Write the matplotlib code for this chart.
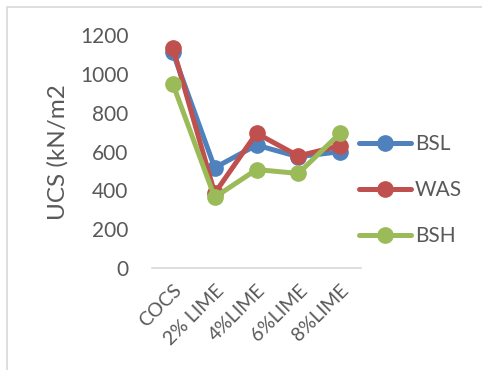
import matplotlib
matplotlib.use("Agg")
import matplotlib.pyplot as plt
from matplotlib.patches import Rectangle

categories = ["COCS", "2% LIME", "4%LIME", "6%LIME", "8%LIME"]
bsl = [1110, 516, 633, 573, 599]
was = [1134, 385, 694, 577, 630]
bsh = [947, 364, 507, 487, 694]
yticks = [0, 200, 400, 600, 800, 1000, 1200]

series = [("BSL", bsl, "#4F81BD"), ("WAS", was, "#C0504D"), ("BSH", bsh, "#9BBB59")]

plt.rcParams['font.family'] = ['Lato', 'DejaVu Sans']
fig = plt.figure(figsize=(4.82, 3.70), dpi=100)
ax = fig.add_axes([152/482, 1 - 268/370, (361-152)/482, (268-35)/370])

x = list(range(len(categories)))
for name, vals, col in series:
    ax.plot(x, vals, color=col, lw=3.6, marker="o", ms=11, label=name,
            solid_capstyle="round", solid_joinstyle="round")

ax.set_xlim(-0.5, len(categories) - 0.5)
ax.set_ylim(0, 1200)
ax.set_yticks(yticks)
ax.set_yticklabels([str(v) for v in yticks], fontsize=15, color="#595959")
ax.set_xticks(x)
ax.set_xticklabels(categories, rotation=45, ha="right", rotation_mode="anchor",
                   fontsize=14, color="#595959")
ax.tick_params(length=0)
ax.tick_params(axis="x", pad=10)
ax.tick_params(axis="y", pad=17)
for s in ["top", "right", "left"]:
    ax.spines[s].set_visible(False)
ax.spines["bottom"].set_color("#D9D9D9")
ax.spines["bottom"].set_linewidth(1.2)
fig.text(58/482, 1 - 152/370, "UCS (kN/m2", rotation=90, ha="center", va="center",
         fontsize=17.5, color="#595959")

leg = ax.legend(loc="center left", bbox_to_anchor=(340/482, 1 - 190/370),
                bbox_transform=fig.transFigure, frameon=False, fontsize=15,
                handlelength=2.5, labelspacing=1.25, handletextpad=0.2,
                labelcolor="#595959")

fig.patches.append(Rectangle((7/482, -0.05), 1.0, 1 - 7/370 + 0.05,
                             transform=fig.transFigure, fill=False,
                             edgecolor="#D9D9D9", lw=1.2))

fig.savefig("out.png", dpi=100)
